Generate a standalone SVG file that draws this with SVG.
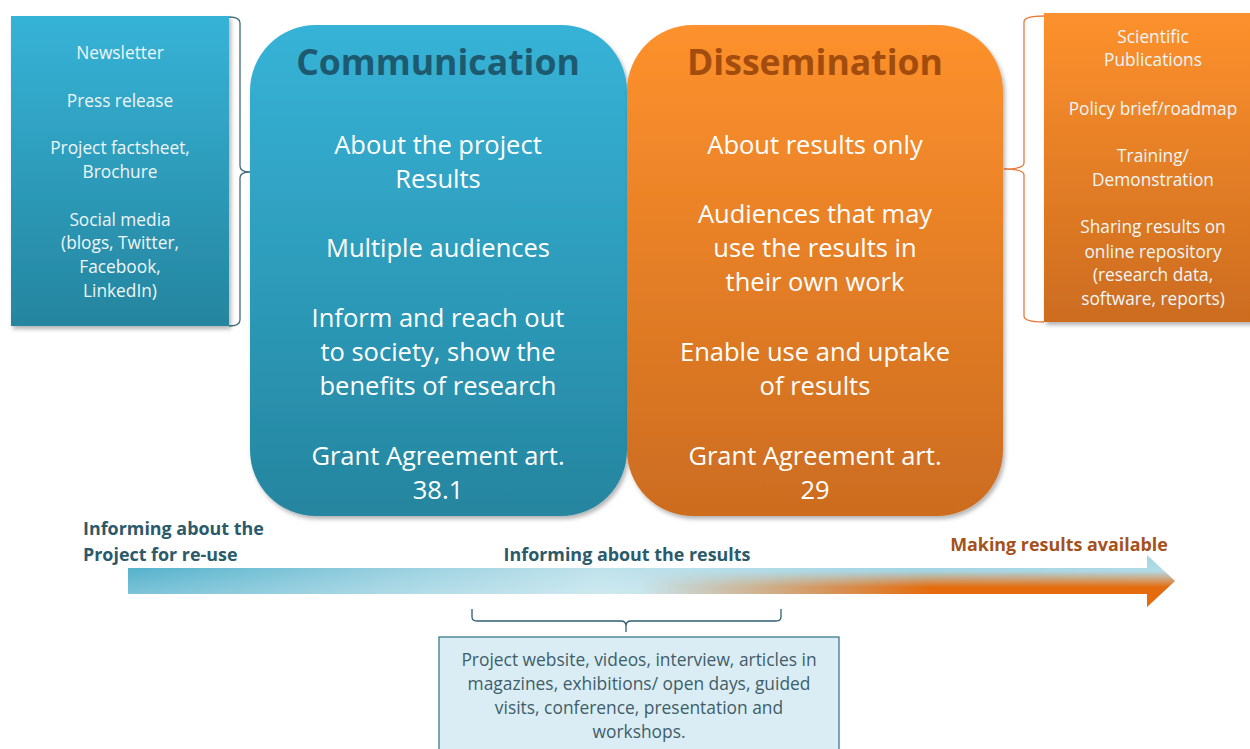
<svg xmlns="http://www.w3.org/2000/svg" width="1250" height="749" viewBox="0 0 1250 749">
  <defs>
    <linearGradient id="gBlue" x1="0" y1="0" x2="0" y2="1">
      <stop offset="0" stop-color="#36b3d7"/>
      <stop offset="1" stop-color="#25859f"/>
    </linearGradient>
    <linearGradient id="gOrange" x1="0" y1="0" x2="0" y2="1">
      <stop offset="0" stop-color="#fd912d"/>
      <stop offset="1" stop-color="#cc6c1f"/>
    </linearGradient>
    <linearGradient id="gArrowBase" gradientUnits="userSpaceOnUse" x1="128" y1="0" x2="1175" y2="0">
      <stop offset="0" stop-color="#42a9c6"/>
      <stop offset="0.25" stop-color="#8ccadb"/>
      <stop offset="0.45" stop-color="#b9dfe9"/>
      <stop offset="0.75" stop-color="#98cfdf"/>
      <stop offset="1" stop-color="#a8d6e4"/>
    </linearGradient>
    <linearGradient id="gArrowShade" x1="0" y1="0" x2="0" y2="1">
      <stop offset="0" stop-color="#ffffff" stop-opacity="0"/>
      <stop offset="1" stop-color="#ffffff" stop-opacity="0.4"/>
    </linearGradient>
    <!-- orange creeping in along the lower edge towards the head -->
    <linearGradient id="gArrowOrange" gradientUnits="userSpaceOnUse" x1="640" y1="0" x2="930" y2="0">
      <stop offset="0" stop-color="#e56c0e" stop-opacity="0"/>
      <stop offset="1" stop-color="#e56c0e" stop-opacity="1"/>
    </linearGradient>
    <linearGradient id="gArrowMaskFade" gradientUnits="userSpaceOnUse" x1="0" y1="571" x2="0" y2="587">
      <stop offset="0" stop-color="#000"/>
      <stop offset="1" stop-color="#fff"/>
    </linearGradient>
    <mask id="arrowMask" maskUnits="userSpaceOnUse" x="120" y="550" width="1070" height="65">
      <rect x="120" y="550" width="1070" height="65" fill="url(#gArrowMaskFade)"/>
    </mask>
    <filter id="shadow" x="-10%" y="-10%" width="120%" height="120%">
      <feDropShadow dx="2" dy="3" stdDeviation="2" flood-color="#000" flood-opacity="0.3"/>
    </filter>
    <path id="arrowShape" d="M128,568 L1147,568 L1147,555 L1175,581 L1147,607 L1147,594 L128,594 Z"/>
  </defs>
  <style>
    text { font-family: "Open Sans", Lato, "Liberation Sans", sans-serif; text-anchor: middle; }
    .side { fill: #eef6f8; font-size: 17.3px; }
    .body { fill: #ffffff; font-size: 25.5px; }
    .title { font-size: 35.6px; font-weight: bold; }
    .axis { font-size: 17.9px; font-weight: bold; }
    .brace { fill: none; stroke-width: 1.3; }
    .note { fill: #3f5d6a; font-size: 17.4px; }
  </style>

  <!-- connectors: braces tying the lists to the central boxes -->
  <g id="connectors">
    <path class="brace" stroke="#3d6b79" d="M229,17 Q240,17 240,23 L240,166 Q240,172 250,172 Q240,172 240,178 L240,320 Q240,326 229,326"/>
    <path class="brace" stroke="#e5793a" d="M1044,16 Q1024,16 1024,22 L1024,163 Q1024,169 1004,169 Q1024,169 1024,175 L1024,316 Q1024,322 1044,322"/>
    <path class="brace" stroke="#2e5f6e" d="M472,609 L472,617 Q472,621 477,621 L621,621 Q626,621 626,626 L626,632 M626,626 Q626,621 631,621 L776,621 Q781,621 781,617 L781,609"/>
  </g>

  <!-- communication channels -->
  <g id="channels-communication">
    <rect x="11" y="16" width="218" height="310" fill="url(#gBlue)" filter="url(#shadow)"/>
    <text class="side" x="120" y="59">Newsletter</text>
    <text class="side" x="120" y="107">Press release</text>
    <text class="side" x="120" y="154">Project factsheet,</text>
    <text class="side" x="120" y="178">Brochure</text>
    <text class="side" x="120" y="226">Social media</text>
    <text class="side" x="120" y="249">(blogs, Twitter,</text>
    <text class="side" x="120" y="273">Facebook,</text>
    <text class="side" x="120" y="297">LinkedIn)</text>
  </g>

  <!-- communication -->
  <g id="communication">
    <rect x="250" y="25" width="377" height="491" rx="66" ry="66" fill="url(#gBlue)" filter="url(#shadow)"/>
    <text class="title" x="438" y="75" fill="#1d5a6f">Communication</text>
    <text class="body" x="438" y="154">About the project</text>
    <text class="body" x="438" y="188">Results</text>
    <text class="body" x="438" y="257">Multiple audiences</text>
    <text class="body" x="438" y="327">Inform and reach out</text>
    <text class="body" x="438" y="361">to society, show the</text>
    <text class="body" x="438" y="395">benefits of research</text>
    <text class="body" x="438" y="465">Grant Agreement art.</text>
    <text class="body" x="438" y="499">38.1</text>
  </g>

  <!-- dissemination -->
  <g id="dissemination">
    <rect x="627" y="25" width="376" height="491" rx="66" ry="66" fill="url(#gOrange)" filter="url(#shadow)"/>
    <text class="title" x="815" y="75" fill="#a24c0e">Dissemination</text>
    <text class="body" x="815" y="154">About results only</text>
    <text class="body" x="815" y="223">Audiences that may</text>
    <text class="body" x="815" y="257">use the results in</text>
    <text class="body" x="815" y="291">their own work</text>
    <text class="body" x="815" y="361">Enable use and uptake</text>
    <text class="body" x="815" y="395">of results</text>
    <text class="body" x="815" y="465">Grant Agreement art.</text>
    <text class="body" x="815" y="499">29</text>
  </g>

  <!-- dissemination channels -->
  <g id="channels-dissemination">
    <rect x="1044" y="13" width="210" height="309" fill="url(#gOrange)" filter="url(#shadow)"/>
    <text class="side" x="1153" y="43">Scientific</text>
    <text class="side" x="1153" y="66">Publications</text>
    <text class="side" x="1153" y="115">Policy brief/roadmap</text>
    <text class="side" x="1153" y="162">Training/</text>
    <text class="side" x="1153" y="186">Demonstration</text>
    <text class="side" x="1153" y="233">Sharing results on</text>
    <text class="side" x="1153" y="258">online repository</text>
    <text class="side" x="1153" y="281">(research data,</text>
    <text class="side" x="1153" y="305">software, reports)</text>
  </g>

  <!-- timeline arrow -->
  <g id="timeline">
    <use href="#arrowShape" fill="url(#gArrowBase)"/>
    <use href="#arrowShape" fill="url(#gArrowShade)"/>
    <use href="#arrowShape" fill="url(#gArrowOrange)" mask="url(#arrowMask)"/>
    <text class="axis" x="83" y="535" fill="#2b5a6b" style="text-anchor:start">Informing about the</text>
    <text class="axis" x="83" y="561" fill="#2b5a6b" style="text-anchor:start">Project for re-use</text>
    <text class="axis" x="627" y="561" fill="#2b5a6b">Informing about the results</text>
    <text class="axis" x="1059" y="551" fill="#a5511b">Making results available</text>
  </g>

  <!-- shared activities -->
  <g id="activities">
    <rect x="439" y="637" width="400" height="115" fill="#daedf4" stroke="#2d6f80" stroke-width="1.2"/>
    <text class="note" x="639" y="666">Project website, videos, interview, articles in</text>
    <text class="note" x="639" y="690">magazines, exhibitions/ open days, guided</text>
    <text class="note" x="639" y="714">visits, conference, presentation and</text>
    <text class="note" x="639" y="738">workshops.</text>
  </g>
</svg>
